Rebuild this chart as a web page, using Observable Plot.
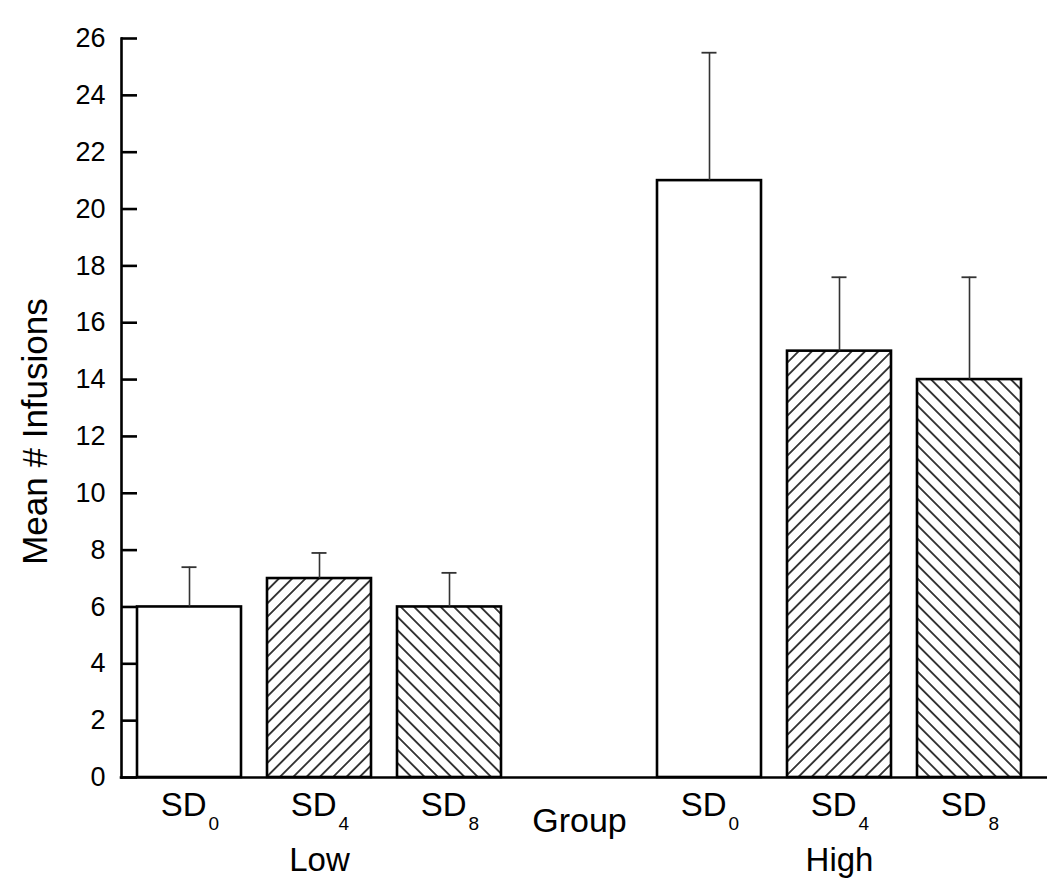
<!DOCTYPE html>
<html>
<head>
<meta charset="utf-8">
<script src="https://cdn.jsdelivr.net/npm/d3@7"></script>
<script src="https://cdn.jsdelivr.net/npm/@observablehq/plot@0.6"></script>
<style>
  html, body { margin: 0; padding: 0; background: #fff; }
</style>
</head>
<body>
<div id="chart"></div>
<script>
// ---- data ----
const groups = ["Low", "High"];
const conditions = ["SD0", "SD4", "SD8"];
const subscripts = ["0", "4", "8"];
const lowMeans = [6, 7, 6];
const lowErrors = [1.4, 0.9, 1.2];
const highMeans = [21, 15, 14];
const highErrors = [4.5, 2.6, 3.6];
const yTicks = [0, 2, 4, 6, 8, 10, 12, 14, 16, 18, 20, 22, 24, 26];
const groupLabel = "Group";
const yLabel = "Mean # Infusions";

// fill style per condition (white, "/" hatch, "\" hatch)
const conditionFills = ["white", "url(#hatchFwd)", "url(#hatchBack)"];

const rows = [];
groups.forEach((g, gi) => {
  const means = gi === 0 ? lowMeans : highMeans;
  const errs = gi === 0 ? lowErrors : highErrors;
  conditions.forEach((c, ci) => {
    rows.push({key: g + " " + c, group: g, cond: c, sub: subscripts[ci],
               mean: means[ci], err: errs[ci], fill: conditionFills[ci]});
  });
});
const xDomain = [...rows.filter(d => d.group === "Low").map(d => d.key), groupLabel,
                 ...rows.filter(d => d.group === "High").map(d => d.key)];
const groupLabels = groups.map(g => ({key: g + " SD4", text: g}));

const font = "'Liberation Sans', Arial, Helvetica, sans-serif";

const plot = Plot.plot({
  width: 1050,
  height: 888,
  marginLeft: 121,
  marginRight: 13,
  marginTop: 38,
  marginBottom: 111,
  style: {fontFamily: font, color: "black", background: "white", overflow: "visible"},
  x: {domain: xDomain, paddingInner: 0.2, paddingOuter: 0.1, axis: null},
  y: {domain: [0, 26], axis: null},
  color: {type: "identity"},
  marks: [
    Plot.barY(rows, {x: "key", y: "mean", fill: "fill", stroke: "black", strokeWidth: 2.6}),
    Plot.ruleX(rows, {x: "key", y1: "mean", y2: d => d.mean + d.err, stroke: "#333", strokeWidth: 1.6}),
    Plot.tickY(rows, {x: "key", y: d => d.mean + d.err, stroke: "#333", strokeWidth: 1.8, insetLeft: 44.5, insetRight: 44.5}),
    // y axis
    Plot.tickY(yTicks, {y: d => d, stroke: "black", strokeWidth: 2.6, insetRight: 900}),
    Plot.text(yTicks, {y: d => d, text: d => String(d), frameAnchor: "left", textAnchor: "end",
                       lineAnchor: "middle", dx: -16, fontSize: 27}),
    Plot.frame({anchor: "left", stroke: "black", strokeWidth: 2.6}),
    Plot.ruleY([0], {stroke: "black", strokeWidth: 2.6, insetLeft: -1.3, insetRight: -10}),
    // x labels
    Plot.text(rows, {x: "key", text: () => "SD", frameAnchor: "bottom", lineAnchor: "top",
                     textAnchor: "end", dx: 17, dy: 15, fontSize: 33}),
    Plot.text(rows, {x: "key", text: "sub", frameAnchor: "bottom", lineAnchor: "top",
                     textAnchor: "start", dx: 19, dy: 39, fontSize: 19}),
    Plot.text([groupLabel], {x: d => d, text: d => d, frameAnchor: "bottom", lineAnchor: "top",
                     dy: 30, fontSize: 34}),
    Plot.text(groupLabels, {x: "key", text: "text", frameAnchor: "bottom", lineAnchor: "top",
                     dy: 70, fontSize: 33}),
    // y label
    Plot.text([yLabel], {text: d => d, frameAnchor: "left", rotate: -90, lineAnchor: "middle",
                     textAnchor: "middle", dx: -86, dy: 23.5, fontSize: 35})
  ]
});

plot.insertAdjacentHTML("afterbegin", `
<defs>
  <pattern id="hatchFwd" patternUnits="userSpaceOnUse" width="9.4" height="9.4" patternTransform="rotate(45)">
    <rect width="9.4" height="9.4" fill="white"></rect>
    <line x1="4.7" y1="-1" x2="4.7" y2="10.4" stroke="black" stroke-width="1.5"></line>
  </pattern>
  <pattern id="hatchBack" patternUnits="userSpaceOnUse" width="9.4" height="9.4" patternTransform="rotate(-45)">
    <rect width="9.4" height="9.4" fill="white"></rect>
    <line x1="4.7" y1="-1" x2="4.7" y2="10.4" stroke="black" stroke-width="1.5"></line>
  </pattern>
</defs>`);

document.getElementById("chart").appendChild(plot);
</script>
</body>
</html>
